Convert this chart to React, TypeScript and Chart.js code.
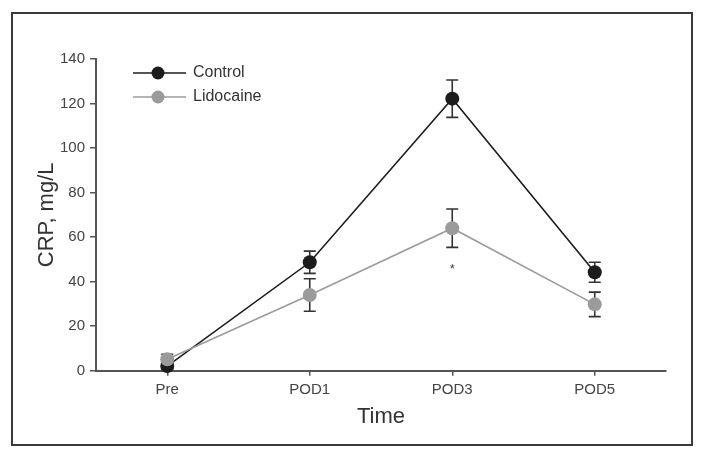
import React, { useEffect, useRef } from "react";
import { Chart, registerables } from "chart.js";

Chart.register(...registerables);

const categories = ["Pre", "POD1", "POD3", "POD5"];
const controlMean = [2.1, 48.7, 122.2, 44.2];
const controlErr = [1.5, 5.0, 8.4, 4.5];
const lidocaineMean = [5.1, 34.0, 64.0, 29.8];
const lidocaineErr = [2.3, 7.3, 8.6, 5.5];
const significance = ["", "", "*", ""];
const seriesNames = ["Control", "Lidocaine"];
const yMin = 0;
const yMax = 140;
const yStep = 20;

const FONT = "'Liberation Sans Narrow', 'Liberation Sans', Arial, sans-serif";
const CONTROL_COLOR = "#1c1c1c";
const LIDO_COLOR = "#9b9b9b";
const ERR_COLOR = "#333333";
const AXIS_COLOR = "#555555";

const errorBarPlugin = {
  id: "errorBars",
  beforeDatasetsDraw(chart: any) {
    const ctx = chart.ctx;
    const yScale = chart.scales.y;
    ctx.save();
    ctx.strokeStyle = ERR_COLOR;
    ctx.lineWidth = 1.6;
    chart.data.datasets.forEach((ds: any, i: number) => {
      const meta = chart.getDatasetMeta(i);
      const errs: number[] = ds.errors || [];
      meta.data.forEach((pt: any, j: number) => {
        const v = ds.data[j];
        const e = errs[j] || 0;
        const top = yScale.getPixelForValue(v + e);
        const bot = yScale.getPixelForValue(v - e);
        const x = pt.x;
        const cap = 6;
        ctx.beginPath();
        ctx.moveTo(x, top);
        ctx.lineTo(x, bot);
        ctx.moveTo(x - cap, top);
        ctx.lineTo(x + cap, top);
        ctx.moveTo(x - cap, bot);
        ctx.lineTo(x + cap, bot);
        ctx.stroke();
      });
    });
    ctx.restore();
  },
  afterDatasetsDraw(chart: any) {
    const ctx = chart.ctx;
    const yScale = chart.scales.y;
    const lidoIndex = 1;
    const meta = chart.getDatasetMeta(lidoIndex);
    const ds = chart.data.datasets[lidoIndex];
    ctx.save();
    ctx.fillStyle = "#444";
    ctx.font = `13px ${FONT}`;
    ctx.textAlign = "center";
    ctx.textBaseline = "middle";
    significance.forEach((s, j) => {
      if (!s) return;
      const bot = yScale.getPixelForValue(ds.data[j] - ds.errors[j]);
      ctx.fillText(s, meta.data[j].x, bot + 22);
    });
    ctx.restore();
  },
};

const legendPlugin = {
  id: "insideLegend",
  afterDraw(chart: any) {
    const ctx = chart.ctx;
    const area = chart.chartArea;
    ctx.save();
    chart.data.datasets.forEach((ds: any, i: number) => {
      const y = area.top + 14 + i * 24;
      const x0 = area.left + 37;
      const x1 = area.left + 90;
      ctx.strokeStyle = ds.borderColor;
      ctx.lineWidth = 1.6;
      ctx.beginPath();
      ctx.moveTo(x0, y);
      ctx.lineTo(x1, y);
      ctx.stroke();
      ctx.fillStyle = ds.pointBackgroundColor;
      ctx.beginPath();
      ctx.arc(area.left + 62, y, 6.5, 0, Math.PI * 2);
      ctx.fill();
      ctx.fillStyle = "#333";
      ctx.font = `16px ${FONT}`;
      ctx.textAlign = "left";
      ctx.textBaseline = "middle";
      ctx.fillText(ds.label, area.left + 97, y);
    });
    ctx.restore();
  },
};

export default function App() {
  const canvasRef = useRef<HTMLCanvasElement | null>(null);

  useEffect(() => {
    if (!canvasRef.current) return;
    const chart = new Chart(canvasRef.current, {
      type: "line",
      data: {
        labels: categories,
        datasets: [
          {
            label: seriesNames[0],
            data: controlMean,
            errors: controlErr,
            borderColor: CONTROL_COLOR,
            backgroundColor: CONTROL_COLOR,
            pointBackgroundColor: CONTROL_COLOR,
            pointBorderColor: CONTROL_COLOR,
            pointRadius: 7,
            pointBorderWidth: 0,
            borderWidth: 1.6,
            tension: 0,
            order: 2,
            clip: false,
          } as any,
          {
            label: seriesNames[1],
            data: lidocaineMean,
            errors: lidocaineErr,
            borderColor: LIDO_COLOR,
            backgroundColor: LIDO_COLOR,
            pointBackgroundColor: LIDO_COLOR,
            pointBorderColor: LIDO_COLOR,
            pointRadius: 7,
            pointBorderWidth: 0,
            borderWidth: 1.6,
            tension: 0,
            order: 1,
            clip: false,
          } as any,
        ],
      },
      options: {
        animation: false,
        responsive: false,
        maintainAspectRatio: false,
        layout: { padding: { left: 0, top: 59, right: 38, bottom: 0 } },
        plugins: {
          legend: { display: false },
          tooltip: { enabled: false },
        },
        scales: {
          x: {
            type: "category",
            offset: true,
            grid: {
              display: true,
              drawOnChartArea: false,
              drawTicks: true,
              tickLength: 5,
              color: AXIS_COLOR,
              lineWidth: 1.5,
              offset: false,
            },
            border: { display: true, color: AXIS_COLOR, width: 2 },
            ticks: {
              color: "#444",
              font: { family: FONT, size: 15 },
              padding: 5,
            },
            title: {
              display: true,
              text: "Time",
              color: "#333",
              font: { family: FONT, size: 22 },
              padding: { top: 4, bottom: 28 },
            },
            afterFit(scale: any) {
              scale.height = 87.3;
            },
          },
          y: {
            min: yMin,
            max: yMax,
            ticks: {
              stepSize: yStep,
              color: "#444",
              font: { family: FONT, size: 15 },
              padding: 5,
            },
            grid: {
              display: true,
              drawOnChartArea: false,
              drawTicks: true,
              tickLength: 6,
              color: AXIS_COLOR,
              lineWidth: 1.5,
            },
            border: { display: true, color: AXIS_COLOR, width: 2 },
            title: {
              display: true,
              text: "CRP, mg/L",
              color: "#333",
              font: { family: FONT, size: 22 },
              padding: { top: 34, bottom: 4 },
            },
            afterFit(scale: any) {
              scale.width = 96;
            },
          },
        },
      } as any,
      plugins: [errorBarPlugin, legendPlugin],
    });
    return () => chart.destroy();
  }, []);

  return (
    <div
      style={{
        position: "fixed",
        left: 0,
        top: 0,
        width: 704,
        height: 458,
        background: "#fff",
      }}
    >
      <canvas
        ref={canvasRef}
        width={704}
        height={458}
        style={{ position: "absolute", left: 0, top: 0, width: 704, height: 458 }}
      />
      <div
        style={{
          position: "absolute",
          left: 11,
          top: 12,
          width: 682,
          height: 434,
          boxSizing: "border-box",
          border: "2px solid #3a3a3a",
          pointerEvents: "none",
        }}
      />
    </div>
  );
}
